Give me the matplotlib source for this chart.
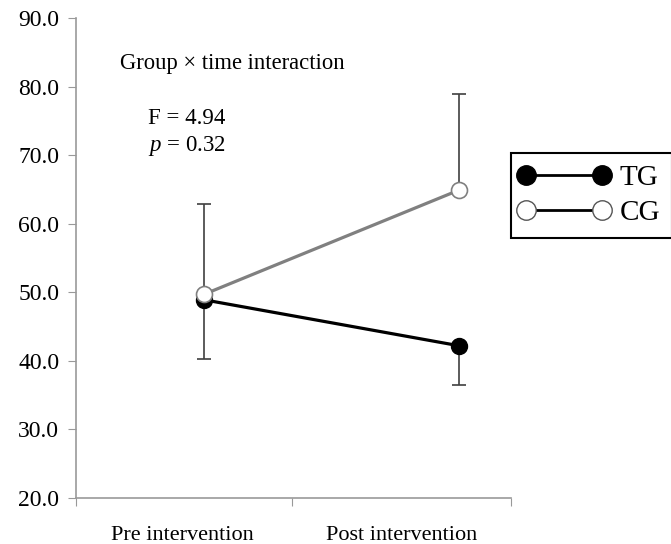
import matplotlib
matplotlib.use("Agg")
import matplotlib.pyplot as plt
from matplotlib.lines import Line2D
from matplotlib.legend_handler import HandlerLine2D

plt.rcParams['font.family'] = ['Liberation Serif', 'DejaVu Serif']
plt.rcParams['mathtext.fontset'] = 'custom'
plt.rcParams['mathtext.rm'] = 'Liberation Serif'
plt.rcParams['mathtext.it'] = 'Liberation Serif:italic'

# data
time_labels = ["Pre intervention", "Post intervention"]
tg_mean = [48.9, 42.2]
tg_err_low = [8.6, 5.7]
cg_mean = [49.7, 64.9]
cg_err_high = [13.2, 14.0]
y_ticks = [20, 30, 40, 50, 60, 70, 80, 90]

fig = plt.figure(figsize=(6.71, 5.44), dpi=100)
ax = fig.add_axes([0.1133, 0.0846, 0.6483, 0.8824])

xs = [0, 1]

# error bars (one-sided), drawn under the lines
ax.errorbar(xs, tg_mean, yerr=[tg_err_low, [0, 0]], fmt='none',
            ecolor='#404040', elinewidth=1.2, capsize=5, capthick=1.2, zorder=1)
ax.errorbar(xs, cg_mean, yerr=[[0, 0], cg_err_high], fmt='none',
            ecolor='#404040', elinewidth=1.2, capsize=5, capthick=1.2, zorder=1)

# group lines
ax.plot(xs, tg_mean, color='black', lw=2.3, marker='o', ms=11.5,
        mfc='black', mec='black', zorder=3)
ax.plot(xs, cg_mean, color='#808080', lw=2.3, marker='o', ms=11.5,
        mfc='white', mec='#808080', mew=1.2, zorder=4)

ax.set_xlim(-0.502, 1.204)
ax.set_ylim(20, 90)
ax.set_yticks(y_ticks)
ax.set_yticklabels(["%.1f" % v for v in y_ticks])

# category boundaries as major ticks, labels centred in the categories
ax.set_xticks([-0.502, 0.345, 1.204])
ax.set_xticklabels([])
ax.set_xticks([-0.084, 0.773], minor=True)
ax.set_xticklabels(time_labels, minor=True)
ax.tick_params(axis='x', which='minor', length=0, pad=20, labelsize=16)
ax.tick_params(axis='x', which='major', length=6, color='#999999', direction='out')
ax.tick_params(axis='y', length=6, color='#999999', direction='out', labelsize=17, pad=6)

for side in ['top', 'right']:
    ax.spines[side].set_visible(False)
for side in ['left', 'bottom']:
    ax.spines[side].set_color('#999999')
    ax.spines[side].set_linewidth(1.2)

# annotation
fig.text(120 / 671, 1 - 64 / 544, "Group \u00d7 time interaction", fontsize=16.3, va='center')
fig.text(148 / 671, 1 - 118 / 544, "F = 4.94", fontsize=16.5, va='center')
fig.text(148 / 671, 1 - 146 / 544, "$\\it{p}$ = 0.32", fontsize=16.5, va='center')

# legend
handles = [
    Line2D([0], [0], color='black', lw=2, marker='o', ms=14, mfc='black', mec='black'),
    Line2D([0], [0], color='black', lw=2, marker='o', ms=14, mfc='white', mec='#555555'),
]
leg = fig.legend(handles, ["TG", "CG"], loc='upper left',
                 bbox_to_anchor=(511 / 671, 1 - 153 / 544), borderaxespad=0,
                 numpoints=2, fontsize=21, handlelength=2.82, handletextpad=0.5,
                 labelspacing=0.3, borderpad=0.4, fancybox=False, framealpha=1,
                 handler_map={Line2D: HandlerLine2D(marker_pad=0.1)})
leg.get_frame().set_edgecolor('black')
leg.get_frame().set_linewidth(1.5)

fig.savefig("out.png", dpi=100)
